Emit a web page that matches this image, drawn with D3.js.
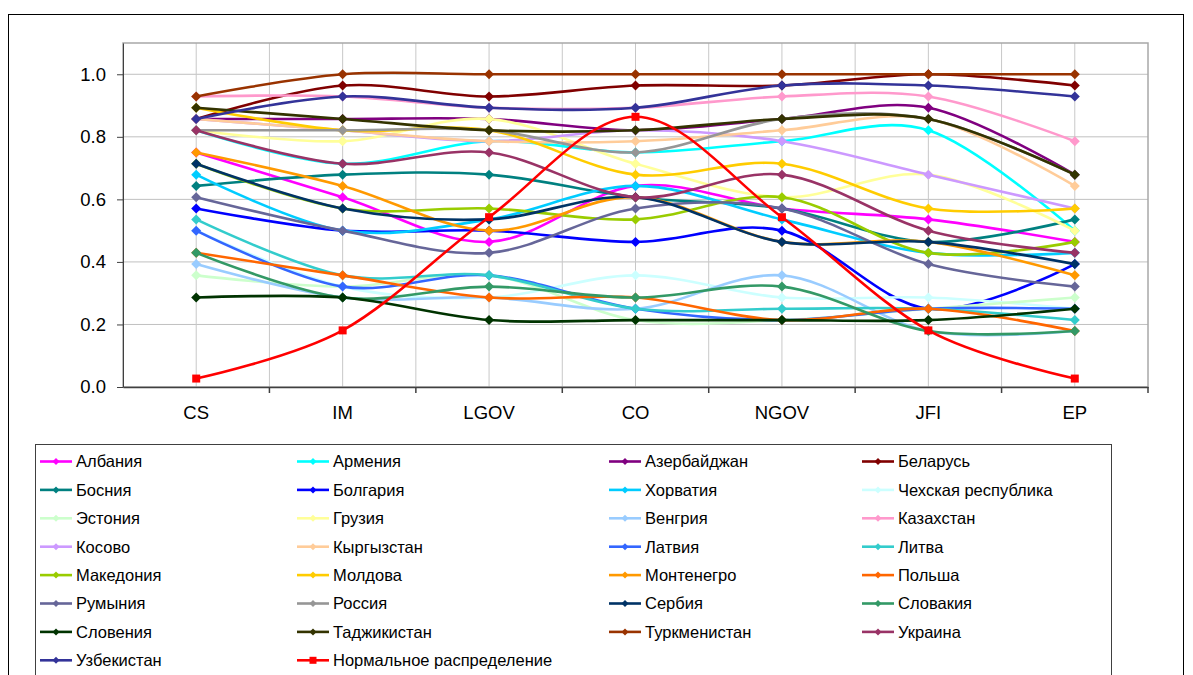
<!DOCTYPE html>
<html>
<head>
<meta charset="utf-8">
<script src="https://cdn.jsdelivr.net/npm/d3@7"></script>
<style>
body{margin:0;background:#fff;}
text{font-family:"Liberation Sans", Arial, sans-serif;}
</style>
</head>
<body>
<script>
(function(){

//categories on the x axis
var categories = ["CS", "IM", "LGOV", "CO", "NGOV", "JFI", "EP"];

//y axis tick values
var yTicks = [0, 0.2, 0.4, 0.6, 0.8, 1.0];

//country names, in legend order
var countries = ["Албания", "Армения", "Азербайджан", "Беларусь", "Босния", "Болгария",
    "Хорватия", "Чехская республика", "Эстония", "Грузия", "Венгрия", "Казахстан",
    "Косово", "Кыргызстан", "Латвия", "Литва", "Македония", "Молдова", "Монтенегро",
    "Польша", "Румыния", "Россия", "Сербия", "Словакия", "Словения", "Таджикистан",
    "Туркменистан", "Украина", "Узбекистан"];

//values per country, one row per country, one value per category
var countryValues = [
    [0.750, 0.607, 0.464, 0.643, 0.571, 0.536, 0.464], //Албания
    [0.821, 0.714, 0.786, 0.750, 0.786, 0.821, 0.500], //Армения
    [0.857, 0.857, 0.857, 0.821, 0.857, 0.893, 0.679], //Азербайджан
    [0.857, 0.964, 0.929, 0.964, 0.964, 1.000, 0.964], //Беларусь
    [0.643, 0.679, 0.679, 0.607, 0.571, 0.464, 0.536], //Босния
    [0.571, 0.500, 0.500, 0.464, 0.500, 0.250, 0.393], //Болгария
    [0.679, 0.500, 0.536, 0.643, 0.536, 0.429, 0.429], //Хорватия
    [0.500, 0.321, 0.286, 0.357, 0.286, 0.286, 0.250], //Чехская республика
    [0.357, 0.321, 0.357, 0.214, 0.214, 0.250, 0.286], //Эстония
    [0.821, 0.786, 0.857, 0.714, 0.607, 0.679, 0.500], //Грузия
    [0.393, 0.286, 0.286, 0.250, 0.357, 0.179, 0.179], //Венгрия
    [0.929, 0.929, 0.893, 0.893, 0.929, 0.929, 0.786], //Казахстан
    [0.857, 0.821, 0.786, 0.821, 0.786, 0.679, 0.571], //Косово
    [0.857, 0.821, 0.786, 0.786, 0.821, 0.857, 0.643], //Кыргызстан
    [0.500, 0.321, 0.357, 0.250, 0.214, 0.250, 0.250], //Латвия
    [0.536, 0.357, 0.357, 0.250, 0.250, 0.250, 0.214], //Литва
    [0.714, 0.571, 0.571, 0.536, 0.607, 0.429, 0.464], //Македония
    [0.893, 0.821, 0.821, 0.679, 0.714, 0.571, 0.571], //Молдова
    [0.750, 0.643, 0.500, 0.607, 0.464, 0.464, 0.357], //Монтенегро
    [0.429, 0.357, 0.286, 0.286, 0.214, 0.250, 0.179], //Польша
    [0.607, 0.500, 0.429, 0.571, 0.571, 0.393, 0.321], //Румыния
    [0.821, 0.821, 0.821, 0.750, 0.857, 0.857, 0.679], //Россия
    [0.714, 0.571, 0.536, 0.607, 0.464, 0.464, 0.393], //Сербия
    [0.429, 0.286, 0.321, 0.286, 0.321, 0.179, 0.179], //Словакия
    [0.286, 0.286, 0.214, 0.214, 0.214, 0.214, 0.250], //Словения
    [0.893, 0.857, 0.821, 0.821, 0.857, 0.857, 0.679], //Таджикистан
    [0.929, 1.000, 1.000, 1.000, 1.000, 1.000, 1.000], //Туркменистан
    [0.821, 0.714, 0.750, 0.607, 0.679, 0.500, 0.429], //Украина
    [0.857, 0.929, 0.893, 0.893, 0.964, 0.964, 0.929]  //Узбекистан
];

//reference curve
var normalName = "Нормальное распределение";
var normalValues = [0.027, 0.181, 0.543, 0.864, 0.543, 0.181, 0.027];

//excel style palette, one colour per country
var palette = ["#FF00FF", "#00FFFF", "#800080", "#800000", "#008080", "#0000FF",
    "#00CCFF", "#CCFFFF", "#CCFFCC", "#FFFF99", "#99CCFF", "#FF99CC",
    "#CC99FF", "#FFCC99", "#3366FF", "#33CCCC", "#99CC00", "#FFCC00", "#FF9900",
    "#FF6600", "#666699", "#969696", "#003366", "#339966", "#003300", "#333300",
    "#993300", "#993366", "#333399"];
var normalColor = "#FF0000";

//build series list
var series = countries.map(function(name, i){
    return {name: name, values: countryValues[i], color: palette[i], shape: "diamond"};
});
series.push({name: normalName, values: normalValues, color: normalColor, shape: "square"});

//frame dimensions
var width = 1193,
    height = 675,
    plotLeft = 123,
    plotRight = 1148,
    plotTop = 43,
    plotBottom = 387;

var svg = d3.select("body")
    .append("svg")
    .attr("width", width)
    .attr("height", height);

svg.append("rect")
    .attr("width", width)
    .attr("height", height)
    .attr("fill", "#fff");

//outer chart border
svg.append("rect")
    .attr("x", 8.5)
    .attr("y", 14.5)
    .attr("width", 1175)
    .attr("height", 700)
    .attr("fill", "none")
    .attr("stroke", "#000")
    .attr("stroke-width", 1);

//scales
var x = d3.scaleBand()
    .domain(categories)
    .range([plotLeft, plotRight]);

var y = d3.scaleLinear()
    .domain([0, 1.1])
    .range([plotBottom, plotTop]);

function cx(c){
    return x(c) + x.bandwidth() / 2;
};

//horizontal gridlines
svg.selectAll(".hgrid")
    .data(yTicks.filter(function(d){ return d > 0; }))
    .enter()
    .append("line")
    .attr("class", "hgrid")
    .attr("x1", plotLeft)
    .attr("x2", plotRight)
    .attr("y1", function(d){ return y(d); })
    .attr("y2", function(d){ return y(d); })
    .attr("stroke", "#c0c0c0")
    .attr("stroke-width", 1);

//vertical gridlines at category centres and boundaries
var vLines = categories.map(cx).concat(categories.slice(1).map(function(c){ return x(c); }));
svg.selectAll(".vgrid")
    .data(vLines)
    .enter()
    .append("line")
    .attr("class", "vgrid")
    .attr("x1", function(d){ return d; })
    .attr("x2", function(d){ return d; })
    .attr("y1", plotTop)
    .attr("y2", plotBottom)
    .attr("stroke", "#c8c8c8")
    .attr("stroke-width", 1);

//plot area border
svg.append("rect")
    .attr("x", plotLeft)
    .attr("y", plotTop)
    .attr("width", plotRight - plotLeft)
    .attr("height", plotBottom - plotTop)
    .attr("fill", "none")
    .attr("stroke", "#a8a8a8")
    .attr("stroke-width", 1.5);

//y axis
var yAxis = d3.axisLeft(y)
    .tickValues(yTicks)
    .tickFormat(d3.format(".1f"))
    .tickSize(6)
    .tickSizeOuter(0)
    .tickPadding(11);

var yG = svg.append("g")
    .attr("transform", "translate(" + plotLeft + ",0)")
    .call(yAxis);
yG.selectAll("text")
    .style("font-size", "18.5px")
    .style("fill", "#000");
yG.selectAll("line, path").attr("stroke", "#404040");

//x axis with labels at category centres
var xAxis = d3.axisBottom(x)
    .tickSize(0)
    .tickSizeOuter(0)
    .tickPadding(19);

var xG = svg.append("g")
    .attr("transform", "translate(0," + plotBottom + ")")
    .call(xAxis);
xG.selectAll("text")
    .style("font-size", "18.5px")
    .style("fill", "#000");
xG.select(".domain").attr("stroke", "#404040").attr("stroke-width", 1.5);

//tick marks at category boundaries
svg.selectAll(".xtick")
    .data(categories.slice(1).map(function(c){ return x(c); }).concat([plotRight]))
    .enter()
    .append("line")
    .attr("class", "xtick")
    .attr("x1", function(d){ return d; })
    .attr("x2", function(d){ return d; })
    .attr("y1", plotBottom)
    .attr("y2", plotBottom + 6)
    .attr("stroke", "#404040")
    .attr("stroke-width", 1.5);

//marker path helpers
function markerPath(shape, r){
    if (shape == "square"){
        return "M" + (-r) + "," + (-r) + "H" + r + "V" + r + "H" + (-r) + "Z";
    } else {
        return "M0," + (-r) + "L" + r + ",0L0," + r + "L" + (-r) + ",0Z";
    };
};

//smoothed line generator
var line = d3.line()
    .x(function(d, i){ return cx(categories[i]); })
    .y(function(d){ return y(d); })
    .curve(d3.curveCatmullRom.alpha(0));

//draw each series, line then markers
series.forEach(function(s){
    var g = svg.append("g").attr("class", "series");

    g.append("path")
        .datum(s.values)
        .attr("d", line)
        .attr("fill", "none")
        .attr("stroke", s.color)
        .attr("stroke-width", 2.6)
        .attr("stroke-linejoin", "round");

    g.selectAll(".marker")
        .data(s.values)
        .enter()
        .append("path")
        .attr("class", "marker")
        .attr("transform", function(d, i){
            return "translate(" + cx(categories[i]) + "," + y(d) + ")";
        })
        .attr("d", markerPath(s.shape, s.shape == "square" ? 4 : 5))
        .attr("fill", s.color);
});

//legend box
var legendLeft = 35,
    legendTop = 444;

svg.append("rect")
    .attr("x", legendLeft + 0.5)
    .attr("y", legendTop + 0.5)
    .attr("width", 1076)
    .attr("height", 240)
    .attr("fill", "#fff")
    .attr("stroke", "#404040")
    .attr("stroke-width", 1);

var colX = [40, 297, 609, 862],
    rowY0 = 461.5,
    rowStep = 28.4;

var items = svg.selectAll(".legendItem")
    .data(series)
    .enter()
    .append("g")
    .attr("class", "legendItem")
    .attr("transform", function(d, i){
        return "translate(" + colX[i % 4] + "," + (rowY0 + Math.floor(i / 4) * rowStep) + ")";
    });

items.append("line")
    .attr("x1", 0)
    .attr("x2", 32)
    .attr("stroke", function(d){ return d.color; })
    .attr("stroke-width", 2.6);

items.append("path")
    .attr("transform", "translate(16,0)")
    .attr("d", function(d){ return markerPath(d.shape, 3.5); })
    .attr("fill", function(d){ return d.color; });

items.append("text")
    .attr("x", 36)
    .attr("dy", "0.36em")
    .style("font-size", "16.5px")
    .style("fill", "#000")
    .text(function(d){ return d.name; });

})();
</script>
</body>
</html>
